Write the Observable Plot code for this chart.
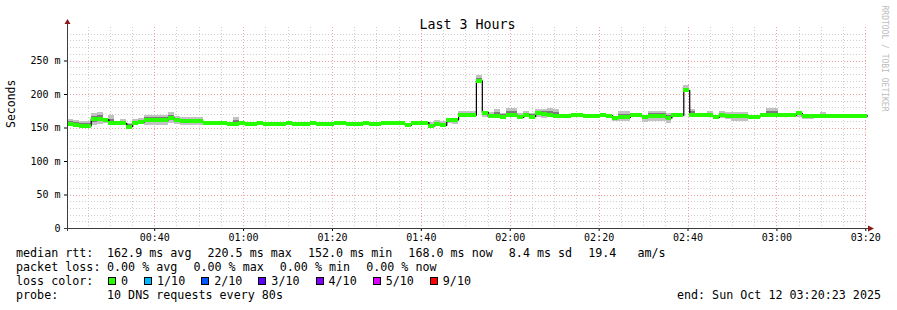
<!DOCTYPE html>
<html>
<head>
<meta charset="utf-8">
<script src="https://cdn.jsdelivr.net/npm/d3@7"></script>
<script src="https://cdn.jsdelivr.net/npm/@observablehq/plot@0.6"></script>
<style>
  html, body { margin: 0; padding: 0; background: #fff; }
  #chart svg { display: block; overflow: visible; }
  #legend { position: relative; height: 64px; font-family: "DejaVu Sans Mono", monospace; font-size: 11.7px; line-height: 14px; color: #000; white-space: pre; }
  #legend .ln { position: absolute; left: 16px; display: flex; align-items: center; height: 14px; }
  #legend .lab { display: inline-block; width: 91px; }
  #legend .fld { margin-left: 16px; }
  #legend .fld.first { margin-left: 0; }
  #legend .sq { display: inline-block; width: 6px; height: 6px; border: 1px solid #000; }
  #legend .item { display: inline-flex; align-items: center; }
</style>
</head>
<body>
<div id="chart"></div>
<div id="legend"></div>
<script>
// ---------- data ----------
const titleText = ["Last 3 Hours"];
const yLabel = ["Seconds"];
const sideText = ["RRDTOOL / TOBI OETIKER"];
const endTime = new Date(Date.UTC(2025, 9, 12, 3, 20, 23));
const stepSeconds = 80;
const yTicks = [0, 50, 100, 150, 200, 250];

// median rtt per 80 s step (ms)
const median = [
  156,155,153,153,163,164,162,158,157,157,
  152,157,159,162,162,162,162,165,162,160,
  160,160,160,157,157,157,157,156,156,157,
  156,156,157,156,156,156,156,157,156,156,
  156,157,156,156,156,157,157,156,156,156,
  157,156,156,157,157,157,157,154,157,158,
  158,153,156,154,162,162,169,169,169,220.5,
  173,168,168,167,169,169,166,169,167,172,
  171,170,168,168,168,169,169,168,168,168,
  169,168,165,166,166,169,169,166,168,168,
  168,165,169,169,206,170,169,169,169,166,
  169,168,168,168,168,167,167,169,169,169,
  169,169,169,172,168,168,168,168,168,168,
  168,168,168,168,168
];
// smoke extent above the median (ms)
const smokeUp = [
  6,6,6,6,8,9,2,10,2,5,
  5,5,5,6,6,6,6,8,5,5,
  5,5,5,2,2,1,2,2,9,2,
  1,1,2,1,1,2,1,1,1,2,
  1,1,2,1,1,1,2,1,1,1,
  2,1,1,1,2,1,1,2,1,2,
  1,5,5,5,2,2,5,5,5,8,
  2,5,9,5,10,10,5,5,5,6,
  6,9,9,2,1,2,1,2,1,2,
  2,1,2,8,8,2,1,2,6,6,
  6,6,1,1,7,8,2,2,5,2,
  5,5,5,5,5,1,1,2,10,10,
  2,2,2,2,1,1,2,5,2,1,
  2,1,2,1,1
];
// smoke extent below the median (ms)
const smokeDown = [
  1,1,1,1,9,9,6,2,2,2,
  2,2,2,9,9,9,9,9,7,7,
  7,7,7,1,1,1,1,1,1,1,
  1,1,1,1,1,1,1,1,1,1,
  1,1,1,1,1,1,1,1,1,1,
  1,1,1,1,1,1,1,1,1,1,
  1,1,1,1,6,7,1,1,1,1,
  7,1,1,1,1,1,2,2,2,7,
  7,2,2,2,2,2,2,2,2,2,
  2,2,6,6,6,2,1,8,8,8,
  8,8,1,1,2,1,1,1,1,1,
  5,5,8,8,8,5,5,1,1,1,
  1,1,1,6,5,5,1,2,1,2,
  1,1,1,2,1
];

const rttLabel = "median rtt:";
const rttStats = ["162.9 ms avg", "220.5 ms max", "152.0 ms min", "168.0 ms now", "8.4 ms sd", "19.4   am/s"];
const lossLabel = "packet loss:";
const lossStats = ["0.00 % avg", "0.00 % max", "0.00 % min", "0.00 % now"];
const colorLabel = "loss color:";
const lossLabels = ["0", "1/10", "2/10", "3/10", "4/10", "5/10", "9/10"];
const lossColors = ["#26ff00", "#00b8ff", "#0059ff", "#5e00ff", "#7e00ff", "#dd00ff", "#ff0000"];
const probeLabel = "probe:";
const probeText = "10 DNS requests every 80s";
const endText = "end: Sun Oct 12 03:20:23 2025";

// ---------- derived tables ----------
const n = median.length;
const startMs = endTime.getTime() - n * stepSeconds * 1000;
const startTime = new Date(startMs);
const rows = median.map((m, i) => ({
  t0: new Date(startMs + i * stepSeconds * 1000),
  t1: new Date(startMs + (i + 1) * stepSeconds * 1000),
  m, up: smokeUp[i], dn: smokeDown[i]
}));
const linePts = rows.map(r => ({t: r.t0, m: r.m})).concat([{t: endTime, m: median[n - 1]}]);

const majorX = d3.utcMinute.every(20).range(startTime, new Date(endTime.getTime() + 1));
const minorX = d3.utcMinute.every(5).range(startTime, endTime).filter(d => d.getUTCMinutes() % 20 !== 0);
const minorY = d3.range(10, 300, 10).filter(v => v % 50 !== 0);
const majorY = yTicks.filter(v => v > 0);

const axisColor = "#3c3c3c";
const arrowColor = "#8b1a1a";

const decorations = (index, scales, values, dims) => {
  const g = d3.create("svg:g");
  const l = dims.marginLeft, t = dims.marginTop;
  const r = dims.width - dims.marginRight, b = dims.height - dims.marginBottom;
  g.append("line").attr("x1", l + 0.5).attr("x2", l + 0.5).attr("y1", b + 3).attr("y2", t - 4)
    .attr("stroke", axisColor);
  g.append("line").attr("x1", l - 3).attr("x2", r + 2).attr("y1", b + 0.5).attr("y2", b + 0.5)
    .attr("stroke", axisColor);
  g.append("path").attr("d", `M${l - 2.5},${t - 3}L${l + 3.5},${t - 3}L${l + 0.5},${t - 8}Z`).attr("fill", arrowColor);
  g.append("path").attr("d", `M${r + 1},${b - 2.5}L${r + 1},${b + 3.5}L${r + 7},${b + 0.5}Z`).attr("fill", arrowColor);
  return g.node();
};

const chart = Plot.plot({
  width: 897,
  height: 246,
  marginLeft: 67,
  marginRight: 30,
  marginTop: 27,
  marginBottom: 18,
  style: {fontFamily: "DejaVu Sans Mono", fontSize: "10px", background: "#fff", color: "#000", overflow: "visible"},
  x: {type: "utc", domain: [startTime, endTime], ticks: majorX, tickFormat: d3.utcFormat("%H:%M"), tickSize: 3, tickPadding: 2, label: null},
  y: {domain: [0, 300], ticks: yTicks, tickFormat: d => d === 0 ? "0" : d + " m", tickSize: 3, tickPadding: 4, label: null},
  marks: [
    Plot.ruleY(minorY, {stroke: "#cfcfcf", strokeDasharray: "1,2", shapeRendering: "crispEdges"}),
    Plot.ruleX(minorX, {stroke: "#cfcfcf", strokeDasharray: "1,2", shapeRendering: "crispEdges"}),
    Plot.ruleY(majorY, {stroke: "#f0a0a0", strokeDasharray: "1,2", shapeRendering: "crispEdges"}),
    Plot.ruleX(majorX, {stroke: "#f0a0a0", strokeDasharray: "1,2", shapeRendering: "crispEdges"}),
    Plot.rect(rows, {x1: "t0", x2: "t1", y1: d => d.m - d.dn, y2: d => d.m + d.up, fill: "#c2c2c2", shapeRendering: "crispEdges"}),
    Plot.rect(rows, {x1: "t0", x2: "t1", y1: d => d.m - d.dn / 2, y2: d => d.m + d.up / 2, fill: "#7c7c7c", shapeRendering: "crispEdges"}),
    Plot.line(linePts, {x: "t", y: "m", curve: "step-after", stroke: "#000", strokeWidth: 1.2}),
    Plot.ruleY(rows, {x1: "t0", x2: "t1", y: "m", stroke: "#26ff00", strokeWidth: 4, shapeRendering: "crispEdges"}),
    decorations,
    Plot.text(titleText, {frameAnchor: "top", dy: -8, fontSize: 13.3, fill: "#000"}),
    Plot.text(yLabel, {frameAnchor: "left", dx: -56, rotate: -90, fontSize: 11.5, fill: "#000"}),
    Plot.text(sideText, {frameAnchor: "top-right", dx: 20, dy: -22, rotate: 90, textAnchor: "start", fontSize: 8, fill: "#bdbdbd"})
  ]
});
document.getElementById("chart").appendChild(chart);

// ---------- legend ----------
const legend = document.getElementById("legend");
function el(tag, cls, text) {
  const d = document.createElement(tag);
  if (cls) d.className = cls;
  if (text != null) d.textContent = text;
  return d;
}
function line(top, label, fields) {
  const d = el("div", "ln");
  d.style.top = top + "px";
  if (label != null) d.appendChild(el("span", "lab", label));
  (fields || []).forEach((f, i) => d.appendChild(el("span", i === 0 ? "fld first" : "fld", f)));
  legend.appendChild(d);
  return d;
}
line(0, rttLabel, rttStats);
line(14, lossLabel, lossStats);
const lc = line(28, colorLabel, []);
lossLabels.forEach((lab, i) => {
  const it = el("span", "item");
  it.style.marginLeft = i === 0 ? "1px" : "16px";
  const sq = el("span", "sq");
  sq.style.background = lossColors[i];
  const tx = el("span", null, lab);
  tx.style.marginLeft = "5px";
  it.appendChild(sq); it.appendChild(tx);
  lc.appendChild(it);
});
line(42, probeLabel, [probeText]);
const e = line(42, null, [endText]);
e.style.left = "auto";
e.style.right = "16px";
</script>
</body>
</html>
